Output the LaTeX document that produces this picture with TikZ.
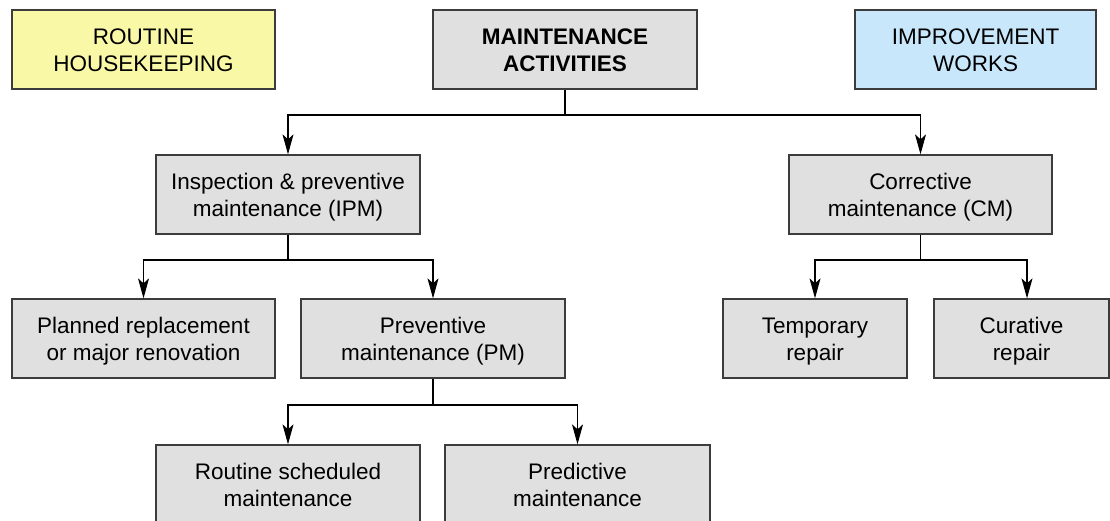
\documentclass[tikz,border=0pt]{standalone}
\usepackage{fontspec}
\setmainfont{Liberation Sans}
\usetikzlibrary{arrows.meta}
\definecolor{boxgray}{HTML}{E0E0E0}
\definecolor{boxyellow}{HTML}{F8F8A6}
\definecolor{boxblue}{HTML}{C9E7FB}
\definecolor{edgegray}{HTML}{3C3C3C}
\newcommand{\twolines}[2]{\rule{0pt}{21pt}#1\\#2\rule[-5pt]{0pt}{5pt}}
\tikzset{
  box/.style={draw=edgegray, line width=1.3pt, fill=boxgray, minimum height=79pt,
    inner sep=0pt, align=center, font=\fontsize{22.5}{27}\selectfont},
  conn/.style={line width=1.1pt, draw=black},
  arr/.style={conn, -{Stealth[length=20pt,width=11pt,inset=5pt]}},
}
\begin{document}
\begin{tikzpicture}[x=1pt,y=-1pt]
\useasboundingbox (0,0) rectangle (1110,520);
\clip (0,0) rectangle (1110,520);
\node[box, fill=boxyellow, minimum width=263pt] (rh) at (143.5,49.5) {\twolines{ROUTINE}{HOUSEKEEPING}};
\node[box, minimum width=264pt, font=\fontsize{22.5}{27}\selectfont\bfseries] (ma) at (565,49.5) {\twolines{MAINTENANCE}{ACTIVITIES}};
\node[box, fill=boxblue, minimum width=241pt] (iw) at (975.5,49.5) {\twolines{IMPROVEMENT}{WORKS}};
\node[box, minimum width=264pt] (ipm) at (288,194.5) {\twolines{Inspection \& preventive}{maintenance (IPM)}};
\node[box, minimum width=263pt] (cm) at (920.5,194.5) {\twolines{Corrective}{maintenance (CM)}};
\node[box, minimum width=263pt] (pr) at (143.5,338.5) {\twolines{Planned replacement}{or major renovation}};
\node[box, minimum width=264pt] (pm) at (433,338.5) {\twolines{Preventive}{maintenance (PM)}};
\node[box, minimum width=184pt] (tr) at (815,338.5) {\twolines{Temporary}{repair}};
\node[box, minimum width=175pt] (cu) at (1021.5,338.5) {\twolines{Curative}{repair}};
\node[box, minimum width=264pt] (rs) at (288,484.5) {\twolines{Routine scheduled}{maintenance}};
\node[box, minimum width=265pt] (pd) at (577.5,484.5) {\twolines{Predictive}{maintenance}};
\coordinate (b1) at (ma.south |- 0,115);
\coordinate (b2) at (ipm.south |- 0,260);
\coordinate (b3) at (cm.south |- 0,260);
\coordinate (b4) at (pm.south |- 0,405);
\draw[conn] (ma.south) -- (b1);
\draw[arr] (b1) -| (ipm.north);
\draw[arr] (b1) -| (cm.north);
\draw[conn] (ipm.south) -- (b2);
\draw[arr] (b2) -| (pr.north);
\draw[arr] (b2) -| (pm.north);
\draw[conn] (cm.south) -- (b3);
\draw[arr] (b3) -| (tr.north);
\draw[arr] (b3) -| ([xshift=5.5pt]cu.north);
\draw[conn] (pm.south) -- (b4);
\draw[arr] (b4) -| (rs.north);
\draw[arr] (b4) -| (pd.north);
\end{tikzpicture}
\end{document}
